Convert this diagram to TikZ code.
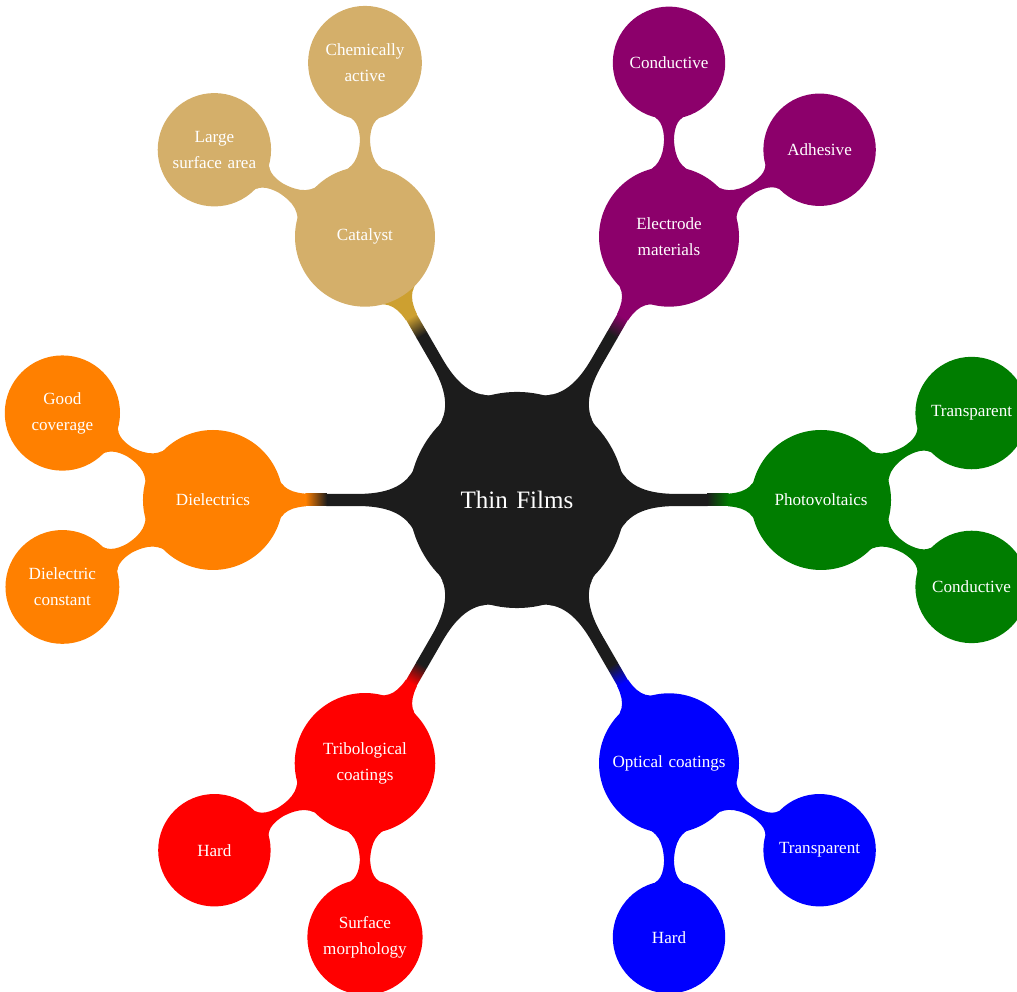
\documentclass[tikz,border=0pt]{standalone}
\usepackage{fontspec}
\setmainfont{Liberation Serif}[WordSpace=2.1]
\usetikzlibrary{mindmap,calc,backgrounds}

\definecolor{rootgray}{RGB}{28,28,28}
\definecolor{cattan}{RGB}{212,175,106}
\definecolor{catgold}{RGB}{205,160,48}
\definecolor{elecpurple}{RGB}{140,0,107}
\definecolor{pvgreen}{RGB}{0,125,0}
\definecolor{optblue}{RGB}{0,0,255}
\definecolor{tribred}{RGB}{255,0,0}
\definecolor{dielorange}{RGB}{255,128,0}

\tikzset{
  rootc/.style={concept, minimum size=3.96cm, text width=3.5cm, align=center,
    font=\fontsize{13.2}{16}\selectfont, text=white},
  lvone/.style={concept, minimum size=2.55cm, text width=2.35cm, align=center,
    font=\fontsize{9}{13.6}\selectfont, text=white},
  lvtwo/.style={concept, minimum size=2.04cm, text width=1.85cm, align=center,
    font=\fontsize{9}{13.6}\selectfont, text=white},
  barone/.style={line width=6.3pt},
  bartwo/.style={line width=5.4pt},
}

% bar from the root (at the origin) to a first-ring concept:
% root colour up to the switch, a short blend, then the concept colour
% #1 direction, #2 target node, #3 colour at the target end
\newcommand\rootbar[3]{%
  \begin{scope}
    \clip[rotate=#1] (0,-2) rectangle (3.53,2);
    \path[barone] (root) to[circle connection bar switch color=from (rootgray) to (rootgray)] (#2);
  \end{scope}
  \begin{scope}
    \clip[rotate=#1] (3.91,-2) rectangle (8,2);
    \path[barone] (root) to[circle connection bar switch color=from (#3) to (#3)] (#2);
  \end{scope}
  \shade[transform canvas={rotate=#1}, left color=rootgray, right color=#3]
    (3.52,-0.1111) rectangle (3.92,0.1111);
}
% bar between a first-ring concept and one of its own concepts
\newcommand\leafbar[3]{%
  \path[bartwo] (#1) to[circle connection bar switch color=from (#3) to (#3)] (#2);
}

\begin{document}
\begin{tikzpicture}[mindmap]
  \useasboundingbox (-9.574,-9.111) rectangle (9.259,9.259);

  % root
  \node[rootc, concept color=rootgray] (root) at (0,0) {Thin Films};

  % first ring
  \node[lvone, concept color=cattan]     (cat)  at (120:5.63)  {Catalyst};
  \node[lvone, concept color=elecpurple] (ele)  at (60:5.63)   {Electrode\\materials};
  \node[lvone, concept color=pvgreen]    (pv)   at (0:5.63)    {Photovoltaics};
  \node[lvone, concept color=optblue]    (opt)  at (-60:5.63)  {Optical coatings};
  \node[lvone, concept color=tribred]    (tri)  at (-120:5.63) {Tribological\\coatings};
  \node[lvone, concept color=dielorange] (die)  at (180:5.63)  {Dielectrics};

  % second ring
  \node[lvtwo, concept color=cattan]     (catA) at ($(cat)+(90:3.22)$)  {Chemically\\active};
  \node[lvtwo, concept color=cattan]     (catB) at ($(cat)+(150:3.22)$) {Large\\surface area};
  \node[lvtwo, concept color=elecpurple] (eleA) at ($(ele)+(90:3.22)$)  {Conductive};
  \node[lvtwo, concept color=elecpurple] (eleB) at ($(ele)+(30:3.22)$)  {Adhesive};
  \node[lvtwo, concept color=pvgreen]    (pvA)  at ($(pv)+(30:3.22)$)   {Transparent};
  \node[lvtwo, concept color=pvgreen]    (pvB)  at ($(pv)+(-30:3.22)$)  {Conductive};
  \node[lvtwo, concept color=optblue]    (optA) at ($(opt)+(-30:3.22)$) {Transparent};
  \node[lvtwo, concept color=optblue]    (optB) at ($(opt)+(-90:3.22)$) {Hard};
  \node[lvtwo, concept color=tribred]    (triA) at ($(tri)+(-150:3.22)$) {Hard};
  \node[lvtwo, concept color=tribred]    (triB) at ($(tri)+(-90:3.22)$) {Surface\\morphology};
  \node[lvtwo, concept color=dielorange] (dieA) at ($(die)+(150:3.22)$) {Good\\coverage};
  \node[lvtwo, concept color=dielorange] (dieB) at ($(die)+(-150:3.22)$) {Dielectric\\constant};

  % connection bars behind the circles
  \begin{pgfonlayer}{background}
    \rootbar{120}{cat}{catgold}
    \rootbar{60}{ele}{elecpurple}
    \rootbar{0}{pv}{pvgreen}
    \rootbar{-60}{opt}{optblue}
    \rootbar{-120}{tri}{tribred}
    \rootbar{180}{die}{dielorange}

    \leafbar{cat}{catA}{cattan}
    \leafbar{cat}{catB}{cattan}
    \leafbar{ele}{eleA}{elecpurple}
    \leafbar{ele}{eleB}{elecpurple}
    \leafbar{pv}{pvA}{pvgreen}
    \leafbar{pv}{pvB}{pvgreen}
    \leafbar{opt}{optA}{optblue}
    \leafbar{opt}{optB}{optblue}
    \leafbar{tri}{triA}{tribred}
    \leafbar{tri}{triB}{tribred}
    \leafbar{die}{dieA}{dielorange}
    \leafbar{die}{dieB}{dielorange}
  \end{pgfonlayer}
\end{tikzpicture}
\end{document}
